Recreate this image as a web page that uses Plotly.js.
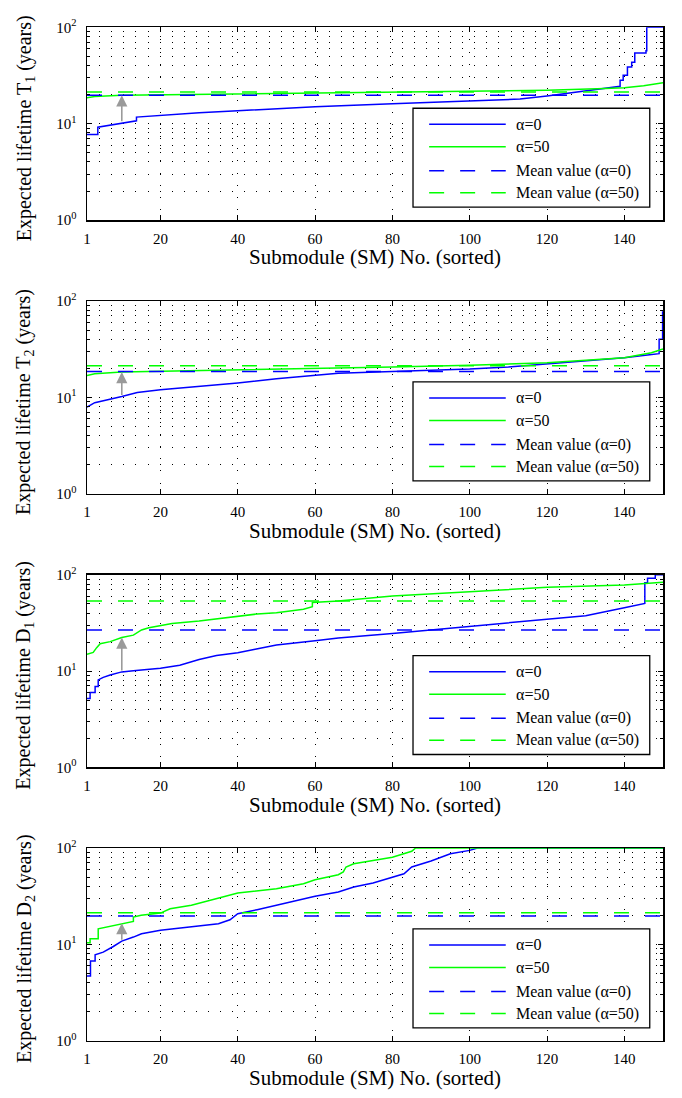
<!DOCTYPE html>
<html><head><meta charset="utf-8">
<script src="https://cdn.plot.ly/plotly-3.0.1.min.js"></script>
<style>html,body{margin:0;padding:0;background:#fff}#chart{width:682px;height:1098px}</style>
</head><body><div id="chart"></div>
<script>
// ---------- data ----------
const t1BlueX = [1,3.8,3.8,10,13.8,13.8,20,30,40,50,60,80,100,113,120,130,137,138.9,138.9,139.7,139.7,140.8,140.8,141.9,141.9,142.7,142.7,145.6,145.6,145.8,145.8,150];
const t1BlueY = [7.7,7.7,9.2,10.2,10.7,11.7,12.2,13.0,13.6,14.3,15.0,16.1,17.1,18.0,19.4,21.8,23.6,24.4,28.2,28.2,31.8,31.8,38.7,38.7,43.3,43.3,54.2,54.2,57,57,100,100];
const t1GreenX = [1,3,10,20,40,60,80,100,120,135,140,145,150];
const t1GreenY = [18.6,19.1,19.7,19.9,20.3,20.6,21.0,21.6,22.2,23.1,23.6,24.8,26.6];

const t2BlueX = [1,3,10,14,20,30,40,50,60,66,80,100,110,120,130,140,146,149,149,149.9,149.9,150];
const t2BlueY = [7.9,8.8,10.2,11.2,12.0,13.0,14.1,15.6,16.9,17.8,18.6,19.7,20.7,22.2,23.8,25.8,27.5,28.4,40.1,40.1,77,77];
const t2GreenX = [1,3,10,40,60,80,100,120,140,147,150];
const t2GreenY = [16.8,17.6,18.3,19.2,19.7,20.7,21.5,22.9,25.8,29.1,31.8];

const d1BlueX = [1,1.8,1.8,3.1,3.1,3.9,3.9,5.2,7,10,13,20,25,30,34.5,40,44.5,50,60,66,80,90,100,110,120,130,140,145.3,145.3,146,146,148,148,150];
const d1BlueY = [5.2,5.2,6.0,6.0,6.9,6.9,8.1,8.6,9.1,9.8,10.1,10.7,11.5,13.2,14.5,15.5,16.8,18.6,20.6,22.0,24.6,26.7,29.3,31.7,34.7,37.5,45.4,50.3,82.6,82.6,91.6,91.6,100,100];
const d1GreenX = [1,2.6,3.5,4.4,7,9,10,13,14.3,15.1,17,20,23,30,40,45,50,57,59.3,59.3,66,75,80,100,120,140,150];
const d1GreenY = [14.9,15.6,17.5,19.2,20.2,21.8,22.3,23.6,25.2,26.7,28.1,29.5,31.2,33.0,36.6,39.1,40.3,43.7,46.6,51.6,53.2,57.7,60.1,66.7,74.0,78.2,83.3];

const d2BlueX = [1,1.9,1.9,3.1,3.1,5.2,7.8,10,13,15.1,20,25,30,35,38,38.8,40,45,50,55,60,66,70,75,80,83,85,90,95,100,102,150];
const d2BlueY = [4.7,4.7,6.7,6.7,7.8,8.3,9.5,10.8,11.9,12.9,14.0,14.8,15.4,16.4,18.0,19.2,20.8,22.9,25.4,27.9,31.5,34.9,39.3,43.3,50,54.1,63.5,73.3,87.3,94.5,100,100];
const d2GreenX = [1,1.8,1.8,3.9,3.9,7,10,11.7,13,13,15,20,22.5,28,33,38,40,50,57,60,66,67.3,68,70,75,80,85,86,150];
const d2GreenY = [10.4,10.4,11.4,11.4,14.5,15.4,16.6,17.0,17.3,19.2,20.0,21.1,23.4,25.4,28.6,32.2,34.1,37.8,42.6,46.9,52.8,56.4,63.5,68.7,74.3,80,92.4,100,100];

const meanBlue  = [19.7, 18.5, 26.7, 19.7];
const meanGreen = [21.3, 21.3, 53.4, 21.3];
const meanX = [1, 150];
const arrowAtX = 10;

const panelSymbols = ['T<sub>1</sub>','T<sub>2</sub>','D<sub>1</sub>','D<sub>2</sub>'];
const xTickVals = [1,20,40,60,80,100,120,140];
const yTickVals = [1,10,100];
const yTickText = ['10<sup>0</sup>','10<sup>1</sup>','10<sup>2</sup>'];
const yMinorVals = [2,3,4,5,6,7,8,9,20,30,40,50,60,70,80,90];
const legendLabels = ['\u03b1=0','\u03b1=50','Mean value (\u03b1=0)','Mean value (\u03b1=50)'];
const xTitle = 'Submodule (SM) No. (sorted)';

// ---------- styling / layout ----------
const W = 682, H = 1098;
const FONT = '"Liberation Serif", "Times New Roman", serif';
const BLUE = '#0000ff', GREEN = '#00ff00', GRAY = '#9a9a9a';
const DOT = '1px,11.1px';
const DASH = '15px,16px';
const plotLeft = 87, plotRight = 663, plotH = 192.7;
const panelTops = [27.3, 301, 574.7, 848];

const series = [
  [t1BlueX, t1BlueY, t1GreenX, t1GreenY],
  [t2BlueX, t2BlueY, t2GreenX, t2GreenY],
  [d1BlueX, d1BlueY, d1GreenX, d1GreenY],
  [d2BlueX, d2BlueY, d2GreenX, d2GreenY]
];

const traces = [];
const layout = {
  width: W, height: H,
  margin: {l:0, r:0, t:0, b:0},
  paper_bgcolor: '#fff', plot_bgcolor: '#fff',
  showlegend: false,
  font: {family: FONT, color: '#000', size: 15},
  shapes: [], annotations: []
};

series.forEach((s, i) => {
  const n = i === 0 ? '' : String(i + 1);
  const xa = 'x' + n, ya = 'y' + n;
  const [bx, by, gx, gy] = s;
  const lineCommon = {xaxis: xa, yaxis: ya, mode: 'lines', hoverinfo: 'skip'};
  traces.push(Object.assign({x: bx, y: by, line: {color: BLUE, width: 1.5}}, lineCommon));
  traces.push(Object.assign({x: gx, y: gy, line: {color: GREEN, width: 1.5}}, lineCommon));
  traces.push(Object.assign({x: meanX, y: [meanBlue[i], meanBlue[i]], line: {color: BLUE, width: 1.5, dash: DASH}}, lineCommon));
  traces.push(Object.assign({x: meanX, y: [meanGreen[i], meanGreen[i]], line: {color: GREEN, width: 1.5, dash: DASH}}, lineCommon));

  const top = panelTops[i];
  const dom = [1 - (top + plotH) / H, 1 - top / H];
  layout['xaxis' + n] = {
    domain: [plotLeft / W, plotRight / W], anchor: ya, range: [1, 150],
    tickmode: 'array', tickvals: xTickVals, ticks: 'inside', ticklen: 5, tickwidth: 1, tickcolor: '#000',
    mirror: 'allticks', showline: true, linecolor: '#000', linewidth: 1.5,
    showgrid: true, gridcolor: '#000', gridwidth: 1, griddash: DOT,
    zeroline: false, tickfont: {family: FONT, size: 15, color: '#000'},
    ticklabelstandoff: 4, automargin: false, fixedrange: true
  };
  layout['yaxis' + n] = {
    type: 'log', domain: dom, anchor: xa, range: [0, 2],
    tickmode: 'array', tickvals: yTickVals, ticktext: yTickText,
    ticks: 'inside', ticklen: 5, tickwidth: 1, tickcolor: '#000',
    mirror: 'allticks', showline: true, linecolor: '#000', linewidth: 1.5,
    showgrid: true, gridcolor: '#000', gridwidth: 1, griddash: DOT,
    minor: {tickmode: 'array', tickvals: yMinorVals, ticks: 'inside', ticklen: 3, tickcolor: '#000', tickwidth: 1,
            showgrid: true, gridcolor: '#000', gridwidth: 1, griddash: DOT},
    zeroline: false, tickfont: {family: FONT, size: 15, color: '#000'},
    ticklabelstandoff: 6, automargin: false, fixedrange: true
  };

  // arrow from alpha=0 curve to alpha=50 curve at x = arrowAtX
  const yFrom = by[bx.indexOf(arrowAtX)], yTo = gy[gx.indexOf(arrowAtX)];
  layout.annotations.push({
    xref: xa, yref: ya, axref: xa, ayref: ya,
    x: arrowAtX, y: Math.log10(yTo), ax: arrowAtX, ay: Math.log10(yFrom),
    text: '', showarrow: true, arrowhead: 2, arrowsize: 1.4, arrowwidth: 1.6,
    arrowcolor: GRAY, standoff: 0, startstandoff: 0
  });

  // legend (box, samples, labels)
  const xd = xa + ' domain', yd = ya + ' domain';
  layout.shapes.push({type: 'rect', xref: xd, yref: yd, x0: 0.566, x1: 0.977, y0: 0.067, y1: 0.580,
                      fillcolor: '#fff', line: {color: '#000', width: 1.3}, layer: 'above'});
  const rowsY = [0.497, 0.380, 0.255, 0.141];
  const sampleStyle = [[BLUE, 'solid'], [GREEN, 'solid'], [BLUE, DASH], [GREEN, DASH]];
  rowsY.forEach((ry, k) => {
    layout.shapes.push({type: 'line', xref: xd, yref: yd, x0: 0.594, x1: 0.727, y0: ry, y1: ry,
                        line: {color: sampleStyle[k][0], width: 1.5, dash: sampleStyle[k][1]}, layer: 'above'});
    layout.annotations.push({xref: xd, yref: yd, x: 0.741, y: ry, xanchor: 'left', yanchor: 'middle',
                             text: legendLabels[k], showarrow: false,
                             font: {family: FONT, size: 16, color: '#000'}});
  });

  // axis titles
  layout.annotations.push({xref: 'paper', yref: 'paper', x: 375 / W, y: 1 - (top + 230) / H,
                           xanchor: 'center', yanchor: 'middle', text: xTitle, showarrow: false,
                           font: {family: FONT, size: 21, color: '#000'}});
  layout.annotations.push({xref: 'paper', yref: 'paper', x: 25 / W, y: 1 - (top + 101) / H,
                           xanchor: 'center', yanchor: 'middle', textangle: -90,
                           text: 'Expected lifetime ' + panelSymbols[i] + ' (years)', showarrow: false,
                           font: {family: FONT, size: 20, color: '#000'}});
});

Plotly.newPlot('chart', traces, layout, {displayModeBar: false, staticPlot: true});
</script>
</body></html>
